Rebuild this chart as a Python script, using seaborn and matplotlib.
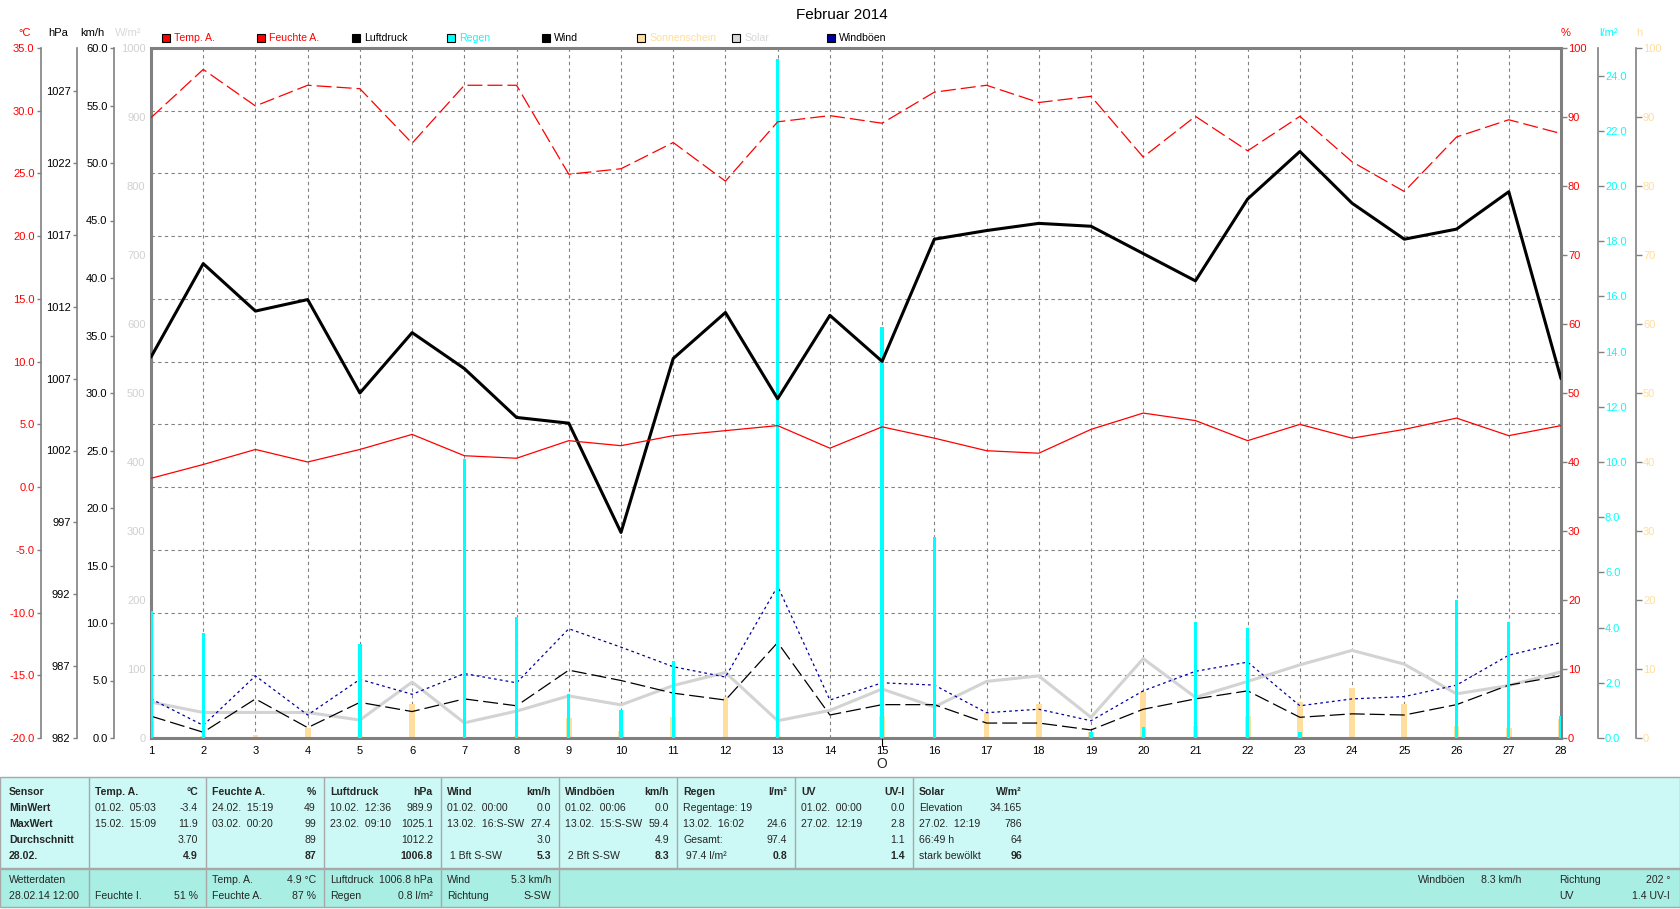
import matplotlib
matplotlib.use('Agg')
import matplotlib.pyplot as plt
import matplotlib.transforms as mtransforms
from matplotlib.patches import Rectangle
from matplotlib.lines import Line2D
import seaborn as sns

# daily values, Februar 2014
days = list(range(1, 29))
temp = [0.7, 1.8, 3.0, 2.0, 3.0, 4.2, 2.5, 2.3, 3.7, 3.3, 4.1, 4.5, 4.9, 3.1,
        4.8, 3.9, 2.9, 2.7, 4.6, 5.9, 5.3, 3.7, 5.0, 3.9, 4.6, 5.5, 4.1, 4.9]
humidity = [89.9, 96.9, 91.6, 94.6, 94.1, 86.2, 94.6, 94.6, 81.7, 82.5, 86.3, 80.7, 89.3, 90.2,
            89.1, 93.6, 94.6, 92.1, 93.0, 84.2, 90.1, 85.1, 90.1, 83.5, 79.2, 87.1, 89.6, 87.6]
pressure = [1008.5, 1015.0, 1011.7, 1012.5, 1006.0, 1010.2, 1007.7, 1004.3, 1003.9, 996.3,
            1008.4, 1011.6, 1005.6, 1011.4, 1008.2, 1016.7, 1017.3, 1017.8, 1017.6, 1015.7,
            1013.8, 1019.5, 1022.8, 1019.2, 1016.7, 1017.4, 1020.0, 1007.0]
wind = [1.9, 0.5, 3.4, 0.9, 3.1, 2.3, 3.4, 2.8, 5.9, 5.0, 3.9, 3.3, 8.3, 2.0,
        2.9, 2.9, 1.3, 1.3, 0.7, 2.5, 3.4, 4.1, 1.8, 2.1, 2.0, 2.9, 4.6, 5.4]
gusts = [3.4, 1.1, 5.4, 2.0, 5.1, 3.8, 5.6, 4.8, 9.5, 7.9, 6.2, 5.3, 13.2, 3.3,
         4.8, 4.6, 2.2, 2.5, 1.5, 4.1, 5.8, 6.6, 2.8, 3.4, 3.6, 4.6, 7.2, 8.3]
solar = [52, 37, 37, 37, 26, 81, 22, 39, 61, 48, 76, 95, 25, 40,
         71, 45, 82, 90, 30, 115, 59, 82, 106, 127, 107, 64, 76, 96]
rain = [4.6, 3.8, 0, 0, 3.4, 0, 10.1, 4.4, 1.6, 1.0, 2.8, 0, 24.6, 0,
        14.9, 7.3, 0, 0, 0.2, 0.4, 4.2, 4.0, 0.2, 0, 0, 5.0, 4.2, 0.8]
sunshine = [2.5, 0.3, 0.5, 1.4, 0.3, 5.0, 0.2, 0.3, 2.9, 1.0, 3.0, 5.9, 0.3, 0.2,
            3.2, 0, 3.6, 4.9, 0.8, 6.7, 1.7, 3.2, 5.2, 7.2, 5.0, 1.7, 1.4, 2.7]

legend_items = [('Temp. A.', '#FF0000', '#FF0000'), ('Feuchte A.', '#FF0000', '#FF0000'),
                ('Luftdruck', '#000000', '#000000'), ('Regen', '#00FFFF', '#00FFFF'),
                ('Wind', '#000000', '#000000'), ('Sonnenschein', '#FFDE9E', '#FFDE9E'),
                ('Solar', '#D8D8D8', '#D8D8D8'), ('Windböen', '#0000A0', '#000000')]

table_cols = [
    ('Temp. A.', '°C', [('01.02.  05:03', '-3.4'), ('15.02.  15:09', '11.9'), ('', '3.70'), ('', '4.9')]),
    ('Feuchte A.', '%', [('24.02.  15:19', '49'), ('03.02.  00:20', '99'), ('', '89'), ('', '87')]),
    ('Luftdruck', 'hPa', [('10.02.  12:36', '989.9'), ('23.02.  09:10', '1025.1'), ('', '1012.2'), ('', '1006.8')]),
    ('Wind', 'km/h', [('01.02.  00:00', '0.0'), ('13.02.  16:S-SW', '27.4'), ('', '3.0'), (' 1 Bft S-SW', '5.3')]),
    ('Windböen', 'km/h', [('01.02.  00:06', '0.0'), ('13.02.  15:S-SW', '59.4'), ('', '4.9'), (' 2 Bft S-SW', '8.3')]),
    ('Regen', 'l/m²', [('Regentage: 19', ''), ('13.02.  16:02', '24.6'), ('Gesamt:', '97.4'), (' 97.4 l/m²', '0.8')]),
    ('UV', 'UV-I', [('01.02.  00:00', '0.0'), ('27.02.  12:19', '2.8'), ('', '1.1'), ('', '1.4')]),
    ('Solar', 'W/m²', [('Elevation', '34.165'), ('27.02.  12:19', '786'), ('66:49 h', '64'), ('stark bewölkt', '96')]),
]
row_names = ['Sensor', 'MinWert', 'MaxWert', 'Durchschnitt', '28.02.']
footer_cols = [
    [('Wetterdaten', ''), ('28.02.14 12:00', '')],
    [('', ''), ('Feuchte I.', '51 %')],
    [('Temp. A.', '4.9 °C'), ('Feuchte A.', '87 %')],
    [('Luftdruck', '1006.8 hPa'), ('Regen', '0.8 l/m²')],
    [('Wind', '5.3 km/h'), ('Richtung', 'S-SW')],
]

sns.set_theme(style='white')
plt.rcParams['font.family'] = ['Liberation Sans', 'DejaVu Sans']

W, H = 1680, 909
fig = plt.figure(figsize=(16.8, 9.09), dpi=100)
fig.patch.set_facecolor('white')
FS = 7.6


def fx(x):
    return x / W


def fy(y):
    return 1 - y / H


L, R, T, B = 151, 1561, 48, 738
rect = [fx(L), fy(B), (R - L) / W, (B - T) / H]
GRAY = '#808080'

# base axes: temperature scale, grid, x labels
base = fig.add_axes(rect)
base.set_facecolor('white')


def overlay(ylim):
    a = fig.add_axes(rect, sharex=base)
    a.set_facecolor('none')
    for s in a.spines.values():
        s.set_visible(False)
    a.tick_params(axis='x', bottom=False, labelbottom=False)
    a.set_yticks([])
    a.set_ylim(*ylim)
    a.grid(False)
    return a


def side_axis(a, side, offset_px, ticks, labels, color, ylim, length=3.2, pad=1.5, show_spine=True):
    sp = a.spines[side]
    sp.set_visible(show_spine)
    sp.set_position(('outward', offset_px * 0.72))
    sp.set_color(GRAY)
    sp.set_linewidth(1.2)
    a.set_yticks(ticks)
    a.set_yticklabels(labels)
    a.set_ylim(*ylim)
    a.tick_params(axis='y', direction='out', length=length, width=1, color=GRAY,
                  labelcolor=color, labelsize=8, pad=pad,
                  left=(side == 'left'), right=(side == 'right'),
                  labelleft=(side == 'left'), labelright=(side == 'right'))


for s in base.spines.values():
    s.set_visible(False)
t_ticks = list(range(-20, 40, 5))
side_axis(base, 'left', 110, t_ticks, ['%.1f' % v for v in t_ticks], '#FF0000', (-20, 35))
base.set_xticks(days)
base.set_xticklabels([str(d) for d in days])
base.tick_params(axis='x', bottom=True, length=0, labelsize=8, labelcolor='black', pad=6)
base.grid(True, axis='both', color=GRAY, linestyle=(0, (3, 3)), linewidth=0.8)

# sunshine hours
ax_sun = overlay((0, 100))
sns.barplot(x=days, y=sunshine, ax=ax_sun, native_scale=True, width=0.11, color='#FFDE9E',
            saturation=1, errorbar=None, edgecolor='none', linewidth=0)
side_axis(ax_sun, 'right', 75, list(range(0, 101, 10)), [str(v) for v in range(0, 101, 10)],
          '#FFDE9E', (0, 100), length=4, pad=1)

# solar radiation, also carries the plot border
ax_s = overlay((0, 1000))
sns.lineplot(x=days, y=solar, ax=ax_s, color='#D3D3D3', linewidth=2.2)
side_axis(ax_s, 'left', 0, list(range(0, 1001, 100)), [str(v) for v in range(0, 1001, 100)],
          '#D0D0D0', (0, 1000), length=0, pad=4)
for s in ax_s.spines.values():
    s.set_visible(True)
    s.set_color(GRAY)
    s.set_linewidth(2.2)
    s.set_position(('outward', 0))

# wind and gusts
ax_w = overlay((0, 60))
sns.lineplot(x=days, y=wind, ax=ax_w, color='black', linewidth=0.9, linestyle=(0, (12, 4)))
sns.lineplot(x=days, y=gusts, ax=ax_w, color='#0000A0', linewidth=0.9, linestyle=(0, (2.2, 2.5)))
w_ticks = list(range(0, 61, 5))
side_axis(ax_w, 'left', 37, w_ticks, ['%.1f' % v for v in w_ticks], 'black', (0, 60))

# rain
ax_r = overlay((0, 25))
sns.barplot(x=days, y=rain, ax=ax_r, native_scale=True, width=0.065, color='#00FFFF',
            saturation=1, errorbar=None, edgecolor='none', linewidth=0)
r_ticks = list(range(0, 25, 2))
side_axis(ax_r, 'right', 37, r_ticks, ['%.1f' % v for v in r_ticks], '#00FFFF', (0, 25), length=4, pad=1)

# pressure
ax_p = overlay((982, 1030))
sns.lineplot(x=days, y=pressure, ax=ax_p, color='black', linewidth=2.2)
p_ticks = list(range(982, 1030, 5))
side_axis(ax_p, 'left', 74, p_ticks, [str(v) for v in p_ticks], 'black', (982, 1030))

# humidity
ax_h = overlay((0, 100))
sns.lineplot(x=days, y=humidity, ax=ax_h, color='#FF0000', linewidth=0.9, linestyle=(0, (12, 4)))
side_axis(ax_h, 'right', 0, list(range(0, 101, 10)), [str(v) for v in range(0, 101, 10)],
          '#FF0000', (0, 100), length=4, pad=1, show_spine=False)

# temperature
ax_t = overlay((-20, 35))
sns.lineplot(x=days, y=temp, ax=ax_t, color='#FF0000', linewidth=0.9)

for a in fig.axes:
    a.set_xlabel('')
    a.set_ylabel('')
    a.set_xlim(1, 28)

# moon phase marker at day 15
tr = mtransforms.blended_transform_factory(base.transData, fig.transFigure)
fig.add_artist(Line2D([15, 15], [fy(739), fy(746)], transform=tr, color='black', lw=0.8))
fig.text(15, fy(764), 'O', transform=tr, ha='center', va='center', fontsize=10)

# title, units and legend
fig.text(fx(842), fy(15), 'Februar 2014', ha='center', va='center', fontsize=11, color='black')
for x, txt, col in [(25, '°C', '#FF0000'), (58, 'hPa', 'black'), (92, 'km/h', 'black'),
                    (128, 'W/m²', '#D8D8D8'), (1566, '%', '#FF0000'), (1608, 'l/m²', '#00FFFF'),
                    (1639, 'h', '#FFDE9E')]:
    fig.text(fx(x), fy(33), txt, ha='center', va='center', fontsize=8, color=col)

for i, (name, fill, tcol) in enumerate(legend_items):
    x0 = 162 + i * 95
    fig.add_artist(Rectangle((fx(x0), fy(42)), 8 / W, 8 / H, transform=fig.transFigure,
                             facecolor=fill, edgecolor='black', linewidth=0.8))
    fig.text(fx(x0 + 12), fy(38), name, ha='left', va='center', fontsize=FS, color=tcol)

# statistics table
TOP, MID, BOT = 777, 868, 907
bounds = [0, 89, 206, 324, 441, 559, 677, 795, 913]
fig.add_artist(Rectangle((0, fy(MID)), 1, (MID - TOP) / H, transform=fig.transFigure,
                         facecolor='#CCF9F5', edgecolor='#A8A8A8', linewidth=1))
fig.add_artist(Rectangle((0, fy(BOT)), 1, (BOT - MID - 1) / H, transform=fig.transFigure,
                         facecolor='#A9EEE3', edgecolor='#A8A8A8', linewidth=1))
for xb in bounds[1:]:
    fig.add_artist(Line2D([fx(xb), fx(xb)], [fy(TOP), fy(MID)], transform=fig.transFigure,
                          color='#A8A8A8', lw=1))
for xb in bounds[1:6]:
    fig.add_artist(Line2D([fx(xb), fx(xb)], [fy(MID + 1), fy(BOT)], transform=fig.transFigure,
                          color='#A8A8A8', lw=1))

rows_y = [792, 808, 824, 840, 856]
for yy, name in zip(rows_y, row_names):
    fig.text(fx(9), fy(yy), name, ha='left', va='center', fontsize=FS, weight='bold')

for i, (head, unit, vals) in enumerate(table_cols):
    x0 = bounds[i + 1] + 6
    x1 = bounds[i + 2] - 8 if i + 2 < len(bounds) else 1022
    fig.text(fx(x0), fy(rows_y[0]), head, ha='left', va='center', fontsize=FS, weight='bold')
    fig.text(fx(x1), fy(rows_y[0]), unit, ha='right', va='center', fontsize=FS, weight='bold')
    for j, (left, right) in enumerate(vals):
        yy = rows_y[j + 1]
        wt = 'bold' if j == 3 else 'normal'
        fig.text(fx(x0), fy(yy), left, ha='left', va='center', fontsize=FS)
        fig.text(fx(x1), fy(yy), right, ha='right', va='center', fontsize=FS, weight=wt)

foot_y = [880, 896]
for i, cells in enumerate(footer_cols):
    x0 = bounds[i] + (9 if i == 0 else 6)
    x1 = bounds[i + 1] - 8
    for yy, (left, right) in zip(foot_y, cells):
        fig.text(fx(x0), fy(yy), left, ha='left', va='center', fontsize=FS)
        fig.text(fx(x1), fy(yy), right, ha='right', va='center', fontsize=FS)

fig.text(fx(1418), fy(foot_y[0]), 'Windböen', ha='left', va='center', fontsize=FS)
fig.text(fx(1481), fy(foot_y[0]), '8.3 km/h', ha='left', va='center', fontsize=FS)
fig.text(fx(1559), fy(foot_y[0]), 'Richtung', ha='left', va='center', fontsize=FS)
fig.text(fx(1670), fy(foot_y[0]), '202 °', ha='right', va='center', fontsize=FS)
fig.text(fx(1559), fy(foot_y[1]), 'UV', ha='left', va='center', fontsize=FS)
fig.text(fx(1670), fy(foot_y[1]), '1.4 UV-I', ha='right', va='center', fontsize=FS)

fig.savefig('out.png', dpi=100, facecolor='white')
